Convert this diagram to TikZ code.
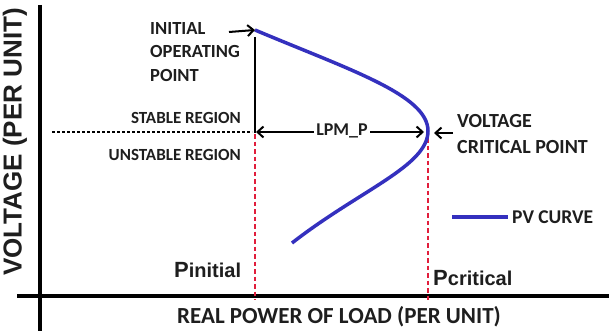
\documentclass[tikz,border=0pt]{standalone}
\usepackage{fontspec}
\setmainfont{Carlito}
\newfontfamily\arialb{Liberation Sans}
\usetikzlibrary{arrows.meta}
\definecolor{pvblue}{RGB}{52,48,190}
\definecolor{dashred}{RGB}{225,30,60}
\definecolor{txt}{RGB}{30,30,30}
\tikzset{
  axis/.style={line width=4pt,black},
  lbl/.style={text=txt,font=\bfseries\fontsize{18.5}{22}\selectfont,inner sep=0pt},
  plbl/.style={text=txt,font=\arialb\bfseries\fontsize{22}{26}\selectfont,inner sep=0pt},
  pv/.style={line width=3.5pt,pvblue},
  reddash/.style={line width=2pt,dashred,dash pattern=on 4.5pt off 3pt},
  blkarrow/.style={line width=2pt,-{Straight Barb[length=6pt,width=11pt,line width=2pt]}},
}
\begin{document}
\begin{tikzpicture}[x=1pt,y=-1pt]
\useasboundingbox (0,0) rectangle (609,334);
\fill[white] (0,0) rectangle (609,334);
% axes
\coordinate (yt) at (40,5);
\coordinate (yb) at (40,331);
\coordinate (xl) at (17,296);
\coordinate (xr) at (609,296);
\draw[axis] (yt) -- (yb);
\draw[axis] (xl) -- (xr);
\node[text=txt,font=\arialb\bfseries\fontsize{26}{30}\selectfont,rotate=90,inner sep=0pt] (ylab) at (15,142) {VOLTAGE (PER UNIT)};
\node[lbl,font=\bfseries\fontsize{23}{27}\selectfont,anchor=base] (xlab) at (339,323) {REAL POWER OF LOAD (PER UNIT)};
% key points
\coordinate (init) at (255,30);
\coordinate (crit) at (428,131);
\coordinate (endp) at (292,243);
% red dashed
\coordinate (pi) at (255,134);
\coordinate (pib) at (255,300);
\coordinate (pc) at (428,138);
\coordinate (pcb) at (428,300);
\draw[reddash] (pi) -- (pib);
\draw[reddash] (pc) -- (pcb);
% black vertical
\coordinate (vtop) at (255,37);
\coordinate (vbot) at (255,133);
\draw[line width=2.5pt] (vtop) -- (vbot);
% dotted
\coordinate (dl) at (52,132);
\coordinate (dr) at (252,132);
\draw[line width=2.5pt,dash pattern=on 2.5pt off 2.5pt] (dl) -- (dr);
% PV curve
\draw[pv] (init) .. controls (350,70) and (428,95) .. (crit) .. controls (428,166) and (360,190) .. (endp);
% labels
\node[lbl,anchor=base west] (t1) at (150,35) {INITIAL};
\node[lbl,anchor=base west] (t2) at (150,58) {OPERATING};
\node[lbl,anchor=base west] (t3) at (150,82) {POINT};
\coordinate (ia) at (229,32);
\draw[blkarrow] (ia) -- (init);
\node[lbl,font=\bfseries\fontsize{17}{20}\selectfont,anchor=base east] (st) at (241,123) {STABLE REGION};
\node[lbl,font=\bfseries\fontsize{17}{20}\selectfont,anchor=base east] (ust) at (241,160) {UNSTABLE REGION};
% LPM
\coordinate (la) at (256,132);
\coordinate (lb) at (424,132);
\draw[line width=2pt,{Straight Barb[length=6pt,width=11pt,line width=2pt]}-{Straight Barb[length=6pt,width=11pt,line width=2pt]}] (la) -- (lb);
\node[lbl,font=\bfseries\fontsize{18}{21}\selectfont,fill=white,inner xsep=2pt,inner ysep=1pt] (lpm) at (342,131) {LPM\_P};
% critical
\coordinate (ca) at (453,133);
\coordinate (cb) at (434,133);
\draw[blkarrow] (ca) -- (cb);
\node[lbl,font=\bfseries\fontsize{20}{23}\selectfont,anchor=base west] (v1) at (457,127) {VOLTAGE};
\node[lbl,font=\bfseries\fontsize{20}{23}\selectfont,anchor=base west] (v2) at (457,153) {CRITICAL POINT};
% legend
\coordinate (lg1) at (452,217);
\coordinate (lg2) at (508,217);
\draw[pv] (lg1) -- (lg2);
\node[lbl,font=\bfseries\fontsize{19.5}{22}\selectfont,anchor=west] (pvc) at (512,217) {PV CURVE};
% P labels
\node[plbl,anchor=base west] (pin) at (174,277) {P\fontsize{20}{24}\selectfont initial};
\node[plbl,anchor=base west] (pcr) at (433,285) {P\fontsize{20}{24}\selectfont critical};
\end{tikzpicture}
\end{document}
